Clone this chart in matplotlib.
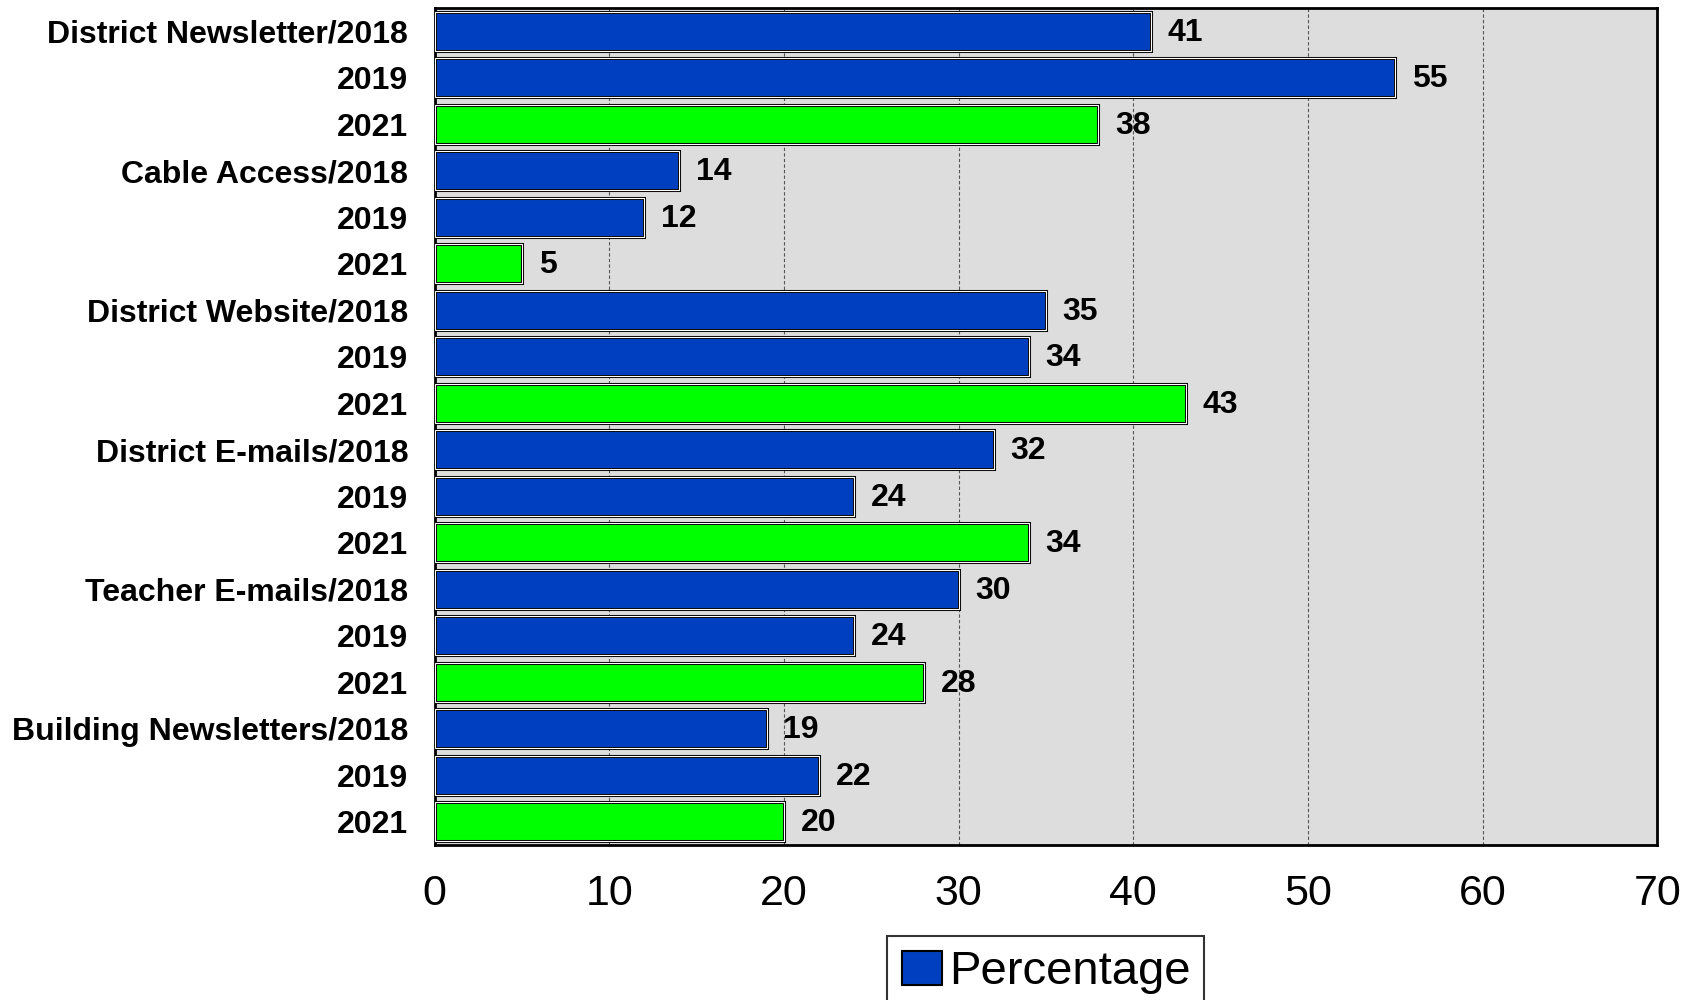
import matplotlib
matplotlib.use("Agg")
import matplotlib.pyplot as plt
from matplotlib.patches import Patch

labels = ["District Newsletter/2018", "2019", "2021",
          "Cable Access/2018", "2019", "2021",
          "District Website/2018", "2019", "2021",
          "District E-mails/2018", "2019", "2021",
          "Teacher E-mails/2018", "2019", "2021",
          "Building Newsletters/2018", "2019", "2021"]
values = [41, 55, 38, 14, 12, 5, 35, 34, 43, 32, 24, 34, 30, 24, 28, 19, 22, 20]
years = ["2018", "2019", "2021"] * 6
xticks = [0, 10, 20, 30, 40, 50, 60, 70]

BLUE = "#0040C0"
GREEN = "#00FF00"
colors = [GREEN if y == "2021" else BLUE for y in years]

plt.rcParams['font.family'] = ['Liberation Sans', 'DejaVu Sans']

fig = plt.figure(figsize=(16.98, 10), dpi=100)
ax = fig.add_axes([0.256, 0.155, 0.72, 0.837])
ax.set_facecolor("#DDDDDD")

pos = list(range(len(values)))
ax.barh(pos, values, height=0.83, color=colors, edgecolor="black", linewidth=2.2, zorder=3)
ax.barh(pos, values, height=0.83, color="none", edgecolor="white", linewidth=0.8, zorder=4)

for p, v in zip(pos, values):
    ax.annotate(str(v), (v, p), xytext=(12, -1), textcoords="offset points",
                ha="left", va="center", fontsize=23, fontweight="bold", zorder=5)

ax.set_ylim(len(values) - 0.5, -0.5)
ax.set_xlim(0, 70)
ax.set_yticks(pos)
ax.set_yticklabels(labels, fontsize=23, fontweight="bold")
ax.set_xticks(xticks)
ax.set_xticklabels([str(t) for t in xticks], fontsize=31)
ax.tick_params(axis="x", length=0, pad=21)
ax.tick_params(axis="y", length=0, pad=19)
ax.grid(axis="x", color="#555555", linestyle=(0, (3, 2)), linewidth=0.8, zorder=1)
for s in ax.spines.values():
    s.set_linewidth(2)
    s.set_color("black")

leg = ax.legend(handles=[Patch(facecolor=BLUE, edgecolor="black", linewidth=1.5, label="Percentage")],
                loc="upper center", bbox_to_anchor=(0.5, -0.109), fontsize=34,
                frameon=True, fancybox=False, edgecolor="black",
                handlelength=0.85, handleheight=0.75, handletextpad=0.15, borderpad=0.3,
                borderaxespad=0)
leg.get_frame().set_linewidth(1.5)

fig.savefig("out.png", dpi=100)
